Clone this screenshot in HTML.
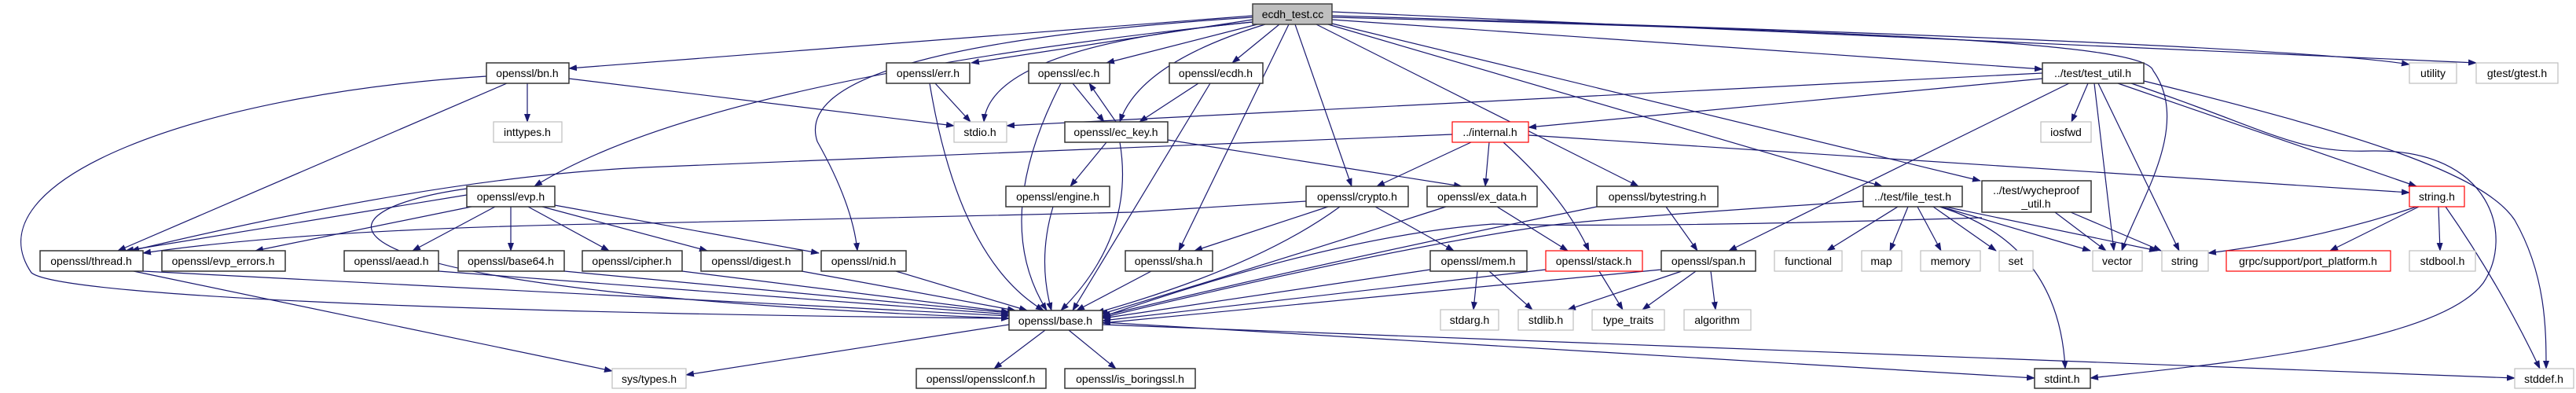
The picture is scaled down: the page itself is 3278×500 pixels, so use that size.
<!DOCTYPE html>
<html><head><meta charset="utf-8"><style>
html,body{margin:0;padding:0;background:#fff;}
svg{display:block;}
text{font-family:"Liberation Sans",sans-serif;font-size:14px;fill:#000;text-anchor:middle;}
.e{fill:none;stroke:#191970;stroke-width:1.2;marker-end:url(#a);}
.n{fill:#fff;stroke:#333;stroke-width:1.5;}
.g{fill:#fff;stroke:#bfbfbf;stroke-width:1.2;}
.r{fill:#fff;stroke:#ff0000;stroke-width:1.2;}
</style></head><body>
<svg width="3278" height="500" viewBox="0 0 3278 500" xmlns="http://www.w3.org/2000/svg">
<defs><marker id="a" markerWidth="11" markerHeight="8" refX="10" refY="4" orient="auto" markerUnits="userSpaceOnUse"><path d="M0,0 L11,4 L0,8 z" fill="#191970"/></marker></defs>
<g>
<path class="e" d="M1594,20 L724,87"/>
<path class="e" d="M1594,25 L1236,80"/>
<path class="e" d="M1600,31 L1408,80"/>
<path class="e" d="M1628,31 L1568,80"/>
<path class="e" d="M1610,31 Q1450,80 1425,155"/>
<path class="e" d="M1594,28 Q1260,60 1252,155"/>
<path class="e" d="M1594,22 Q1000,60 1040,180 Q1085,260 1091,319"/>
<path class="e" d="M1594,28 Q900,100 680,237"/>
<path class="e" d="M1648,31 L1720,237"/>
<path class="e" d="M1640,31 L1500,319"/>
<path class="e" d="M1675,31 L2085,237"/>
<path class="e" d="M1690,31 L2395,237"/>
<path class="e" d="M1695,25 L2599,88"/>
<path class="e" d="M1695,30 L2520,230"/>
<path class="e" d="M1695,22 C2400,40 2730,55 2740,90 C2790,160 2720,260 2700,319"/>
<path class="e" d="M1695,20 Q2900,55 3066,82"/>
<path class="e" d="M1695,15 L3151,80"/>
<path class="e" d="M724,100 L1214,160"/>
<path class="e" d="M645,106 L150,319"/>
<path class="e" d="M671,106 L671,155"/>
<path class="e" d="M619,97 C250,120 -40,230 40,347 C80,380 700,400 1284,405"/>
<path class="e" d="M1190,106 L1235,155"/>
<path class="e" d="M1183,106 Q1220,330 1328,395"/>
<path class="e" d="M1365,106 L1405,155"/>
<path class="e" d="M1350,106 Q1260,280 1332,395"/>
<path class="e" d="M1420,155 L1386,106"/>
<path class="e" d="M1408,181 L1362,237"/>
<path class="e" d="M1425,181 Q1445,300 1350,395"/>
<path class="e" d="M1486,178 L1860,237"/>
<path class="e" d="M1525,106 L1450,155"/>
<path class="e" d="M1540,106 L1365,395"/>
<path class="e" d="M1340,263 Q1320,330 1338,395"/>
<path class="e" d="M594,248 L160,319"/>
<path class="e" d="M600,263 L325,319"/>
<path class="e" d="M630,263 L525,319"/>
<path class="e" d="M650,263 L650,319"/>
<path class="e" d="M672,263 L775,319"/>
<path class="e" d="M690,263 L900,319"/>
<path class="e" d="M700,260 L1042,322"/>
<path class="e" d="M594,240 C380,270 360,370 1284,405"/>
<path class="e" d="M182,345 L1284,402"/>
<path class="e" d="M170,345 L779,472"/>
<path class="e" d="M558,345 L1284,400"/>
<path class="e" d="M718,345 L1284,398"/>
<path class="e" d="M868,345 L1284,397"/>
<path class="e" d="M1020,345 L1292,395"/>
<path class="e" d="M1140,345 L1307,395"/>
<path class="e" d="M1465,345 L1370,395"/>
<path class="e" d="M1848,171 L820,213 Q560,225 167,319"/>
<path class="e" d="M1872,181 L1752,237"/>
<path class="e" d="M1895,181 L1890,237"/>
<path class="e" d="M1913,181 Q1990,250 2022,319"/>
<path class="e" d="M1945,172 L3066,245"/>
<path class="e" d="M1662,256 L1440,270 L820,284 Q400,290 182,322"/>
<path class="e" d="M1690,263 L1520,319"/>
<path class="e" d="M1705,263 Q1600,340 1395,398"/>
<path class="e" d="M1750,263 L1850,319"/>
<path class="e" d="M1840,263 Q1600,340 1400,400"/>
<path class="e" d="M1905,263 L1995,319"/>
<path class="e" d="M2032,263 Q1700,330 1403,402"/>
<path class="e" d="M2120,263 L2160,319"/>
<path class="e" d="M1820,343 L1403,405"/>
<path class="e" d="M1880,345 L1875,394"/>
<path class="e" d="M1895,345 L1950,394"/>
<path class="e" d="M1967,343 L1403,408"/>
<path class="e" d="M2035,345 L2065,394"/>
<path class="e" d="M2114,343 L1403,411"/>
<path class="e" d="M2140,345 L1995,394"/>
<path class="e" d="M2158,345 L2090,394"/>
<path class="e" d="M2177,345 L2183,394"/>
<path class="e" d="M2371,256 Q2000,280 1950,290 Q1750,320 1403,404"/>
<path class="e" d="M2415,263 L2325,319"/>
<path class="e" d="M2428,263 L2405,319"/>
<path class="e" d="M2440,263 L2470,319"/>
<path class="e" d="M2460,263 L2540,319"/>
<path class="e" d="M2470,263 L2660,319"/>
<path class="e" d="M2475,263 L2745,319"/>
<path class="e" d="M2468,263 Q2620,310 2628,469"/>
<path class="e" d="M2615,270 L2680,319"/>
<path class="e" d="M2635,270 L2750,319"/>
<path class="e" d="M2522,277 Q2100,290 1900,285 Q1700,300 1403,403"/>
<path class="e" d="M2599,93 L1281,160"/>
<path class="e" d="M2599,100 L1945,162"/>
<path class="e" d="M2633,106 L2200,319"/>
<path class="e" d="M2657,106 L2636,155"/>
<path class="e" d="M2665,106 L2690,319"/>
<path class="e" d="M2670,106 L2773,319"/>
<path class="e" d="M2695,106 L3075,237"/>
<path class="e" d="M2712,106 C2900,170 2920,195 3020,192 C3170,190 3200,300 3160,360 C3100,440 2800,465 2660,481"/>
<path class="e" d="M2728,103 C3000,170 3160,220 3200,280 C3240,350 3240,420 3240,469"/>
<path class="e" d="M3075,263 Q2950,305 2810,322"/>
<path class="e" d="M3078,263 L2965,319"/>
<path class="e" d="M3103,263 L3105,319"/>
<path class="e" d="M3112,263 Q3180,360 3232,469"/>
<path class="e" d="M1284,413 L873,477"/>
<path class="e" d="M1330,420 L1265,469"/>
<path class="e" d="M1360,420 L1420,469"/>
<path class="e" d="M1403,410 L2589,481"/>
<path class="e" d="M1403,413 L3200,481"/>
</g>
<g>
<rect x="1594" y="5" width="101" height="26" fill="#bfbfbf" stroke="#404040" stroke-width="1.5"/><text x="1645" y="23">ecdh_test.cc</text>
<rect class="n" x="619" y="80" width="105" height="26"/><text x="671" y="98">openssl/bn.h</text>
<rect class="n" x="1128" y="80" width="106" height="26"/><text x="1181" y="98">openssl/err.h</text>
<rect class="n" x="1309" y="80" width="103" height="26"/><text x="1360" y="98">openssl/ec.h</text>
<rect class="n" x="1488" y="80" width="119" height="26"/><text x="1547" y="98">openssl/ecdh.h</text>
<rect class="n" x="2599" y="80" width="129" height="26"/><text x="2663" y="98">../test/test_util.h</text>
<rect class="g" x="3066" y="80" width="60" height="26"/><text x="3096" y="98">utility</text>
<rect class="g" x="3151" y="80" width="104" height="26"/><text x="3203" y="98">gtest/gtest.h</text>
<rect class="g" x="628" y="155" width="87" height="26"/><text x="671" y="173">inttypes.h</text>
<rect class="g" x="1214" y="155" width="67" height="26"/><text x="1247" y="173">stdio.h</text>
<rect class="n" x="1355" y="155" width="131" height="26"/><text x="1420" y="173">openssl/ec_key.h</text>
<rect class="r" x="1848" y="155" width="97" height="26"/><text x="1896" y="173">../internal.h</text>
<rect class="g" x="2597" y="155" width="64" height="26"/><text x="2629" y="173">iosfwd</text>
<rect class="n" x="594" y="237" width="112" height="26"/><text x="650" y="255">openssl/evp.h</text>
<rect class="n" x="1280" y="237" width="132" height="26"/><text x="1346" y="255">openssl/engine.h</text>
<rect class="n" x="1662" y="237" width="130" height="26"/><text x="1727" y="255">openssl/crypto.h</text>
<rect class="n" x="1816" y="237" width="140" height="26"/><text x="1886" y="255">openssl/ex_data.h</text>
<rect class="n" x="2032" y="237" width="154" height="26"/><text x="2109" y="255">openssl/bytestring.h</text>
<rect class="n" x="2371" y="237" width="126" height="26"/><text x="2434" y="255">../test/file_test.h</text>
<rect class="n" x="2522" y="230" width="139" height="40"/><text x="2591" y="247">../test/wycheproof</text><text x="2591" y="264">_util.h</text>
<rect class="r" x="3066" y="237" width="70" height="26"/><text x="3101" y="255">string.h</text>
<rect class="n" x="51" y="319" width="131" height="26"/><text x="116" y="337">openssl/thread.h</text>
<rect class="n" x="206" y="319" width="157" height="26"/><text x="284" y="337">openssl/evp_errors.h</text>
<rect class="n" x="438" y="319" width="120" height="26"/><text x="498" y="337">openssl/aead.h</text>
<rect class="n" x="583" y="319" width="135" height="26"/><text x="650" y="337">openssl/base64.h</text>
<rect class="n" x="741" y="319" width="127" height="26"/><text x="804" y="337">openssl/cipher.h</text>
<rect class="n" x="892" y="319" width="129" height="26"/><text x="956" y="337">openssl/digest.h</text>
<rect class="n" x="1045" y="319" width="108" height="26"/><text x="1099" y="337">openssl/nid.h</text>
<rect class="n" x="1432" y="319" width="111" height="26"/><text x="1487" y="337">openssl/sha.h</text>
<rect class="n" x="1820" y="319" width="123" height="26"/><text x="1881" y="337">openssl/mem.h</text>
<rect class="r" x="1967" y="319" width="123" height="26"/><text x="2028" y="337">openssl/stack.h</text>
<rect class="n" x="2114" y="319" width="120" height="26"/><text x="2174" y="337">openssl/span.h</text>
<rect class="g" x="2258" y="319" width="86" height="26"/><text x="2301" y="337">functional</text>
<rect class="g" x="2369" y="319" width="51" height="26"/><text x="2394" y="337">map</text>
<rect class="g" x="2444" y="319" width="76" height="26"/><text x="2482" y="337">memory</text>
<rect class="g" x="2544" y="319" width="43" height="26"/><text x="2565" y="337">set</text>
<rect class="g" x="2663" y="319" width="63" height="26"/><text x="2694" y="337">vector</text>
<rect class="g" x="2751" y="319" width="59" height="26"/><text x="2780" y="337">string</text>
<rect class="r" x="2833" y="319" width="209" height="26"/><text x="2937" y="337">grpc/support/port_platform.h</text>
<rect class="g" x="3066" y="319" width="84" height="26"/><text x="3108" y="337">stdbool.h</text>
<rect class="n" x="1284" y="395" width="119" height="25"/><text x="1343" y="413">openssl/base.h</text>
<rect class="g" x="1833" y="394" width="74" height="26"/><text x="1870" y="412">stdarg.h</text>
<rect class="g" x="1932" y="394" width="70" height="26"/><text x="1967" y="412">stdlib.h</text>
<rect class="g" x="2026" y="394" width="92" height="26"/><text x="2072" y="412">type_traits</text>
<rect class="g" x="2143" y="394" width="85" height="26"/><text x="2185" y="412">algorithm</text>
<rect class="g" x="779" y="469" width="94" height="25"/><text x="826" y="487">sys/types.h</text>
<rect class="n" x="1166" y="469" width="165" height="25"/><text x="1248" y="487">openssl/opensslconf.h</text>
<rect class="n" x="1355" y="469" width="166" height="25"/><text x="1438" y="487">openssl/is_boringssl.h</text>
<rect class="n" x="2589" y="469" width="71" height="25"/><text x="2624" y="487">stdint.h</text>
<rect class="g" x="3200" y="469" width="75" height="25"/><text x="3237" y="487">stddef.h</text>
</g>
</svg>
</body></html>
